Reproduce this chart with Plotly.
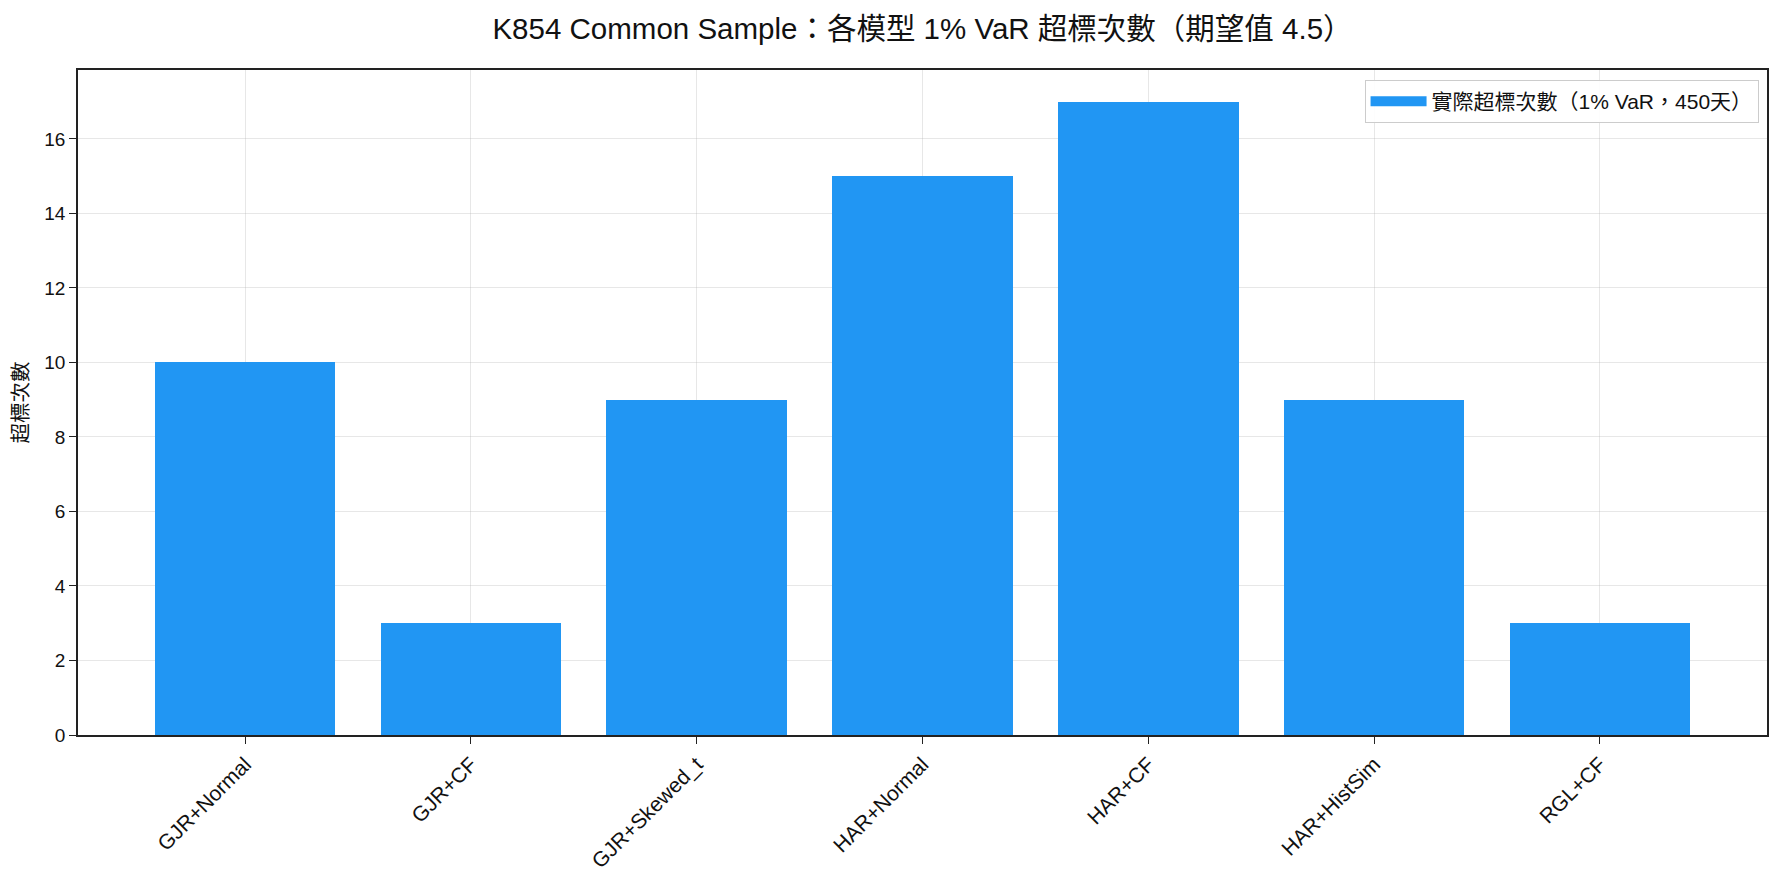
import plotly.graph_objects as go

models = ["GJR+Normal", "GJR+CF", "GJR+Skewed_t", "HAR+Normal", "HAR+CF", "HAR+HistSim", "RGL+CF"]
exceedances = [10, 3, 9, 15, 17, 9, 3]
y_ticks = [0, 2, 4, 6, 8, 10, 12, 14, 16]
series_name = "實際超標次數（1% VaR，450天）"
BAR_COLOR = "#2196F3"

FONT = "Liberation Sans, Arial, Noto Sans CJK TC, sans-serif"

fig = go.Figure()
fig.add_trace(go.Bar(
    x=list(range(len(models))),
    y=exceedances,
    width=0.8,
    marker=dict(color=BAR_COLOR, line=dict(width=0)),
    name=series_name,
    showlegend=False,
))
# legend entry drawn as a wide patch (like matplotlib's legend handle)
fig.add_trace(go.Scatter(
    x=[None], y=[None], mode="lines",
    line=dict(color=BAR_COLOR, width=14),
    name=series_name, showlegend=True, hoverinfo="skip",
))

fig.update_layout(
    width=1783, height=882,
    margin=dict(l=78, r=16, t=70, b=147),
    paper_bgcolor="white", plot_bgcolor="white",
    font=dict(family=FONT, size=19, color="#111"),
    title=dict(text="K854 Common Sample：各模型 1% VaR 超標次數（期望值 4.5）",
               xref="paper", x=0.5, xanchor="center", y=0.967, yanchor="middle",
               font=dict(size=29.5, color="#111")),
    legend=dict(x=0.995, xanchor="right", y=0.985, yanchor="top",
                bordercolor="#cccccc", borderwidth=1, bgcolor="rgba(255,255,255,0.9)",
                font=dict(size=21), itemwidth=56),
    bargap=0,
)
fig.update_xaxes(
    range=[-0.74, 6.74], automargin=False,
    tickmode="array", tickvals=list(range(len(models))), ticktext=models,
    tickangle=-45, ticks="outside", ticklen=7, tickcolor="#222",
    showline=True, linecolor="#222", linewidth=1.5, mirror=True,
    showgrid=True, gridcolor="rgba(176,176,176,0.3)", gridwidth=1,
    layer="above traces", zeroline=False,
    tickfont=dict(size=21),
)
fig.update_yaxes(
    range=[0, 17.85], automargin=False,
    tickmode="array", tickvals=y_ticks,
    ticks="outside", ticklen=7, tickcolor="#222",
    showline=True, linecolor="#222", linewidth=1.5, mirror=True,
    showgrid=True, gridcolor="rgba(176,176,176,0.3)", gridwidth=1,
    layer="above traces", zeroline=False,
    title=dict(text="超標次數", font=dict(size=20.5), standoff=10),
    tickfont=dict(size=19),
)

fig.write_html("out.html")
